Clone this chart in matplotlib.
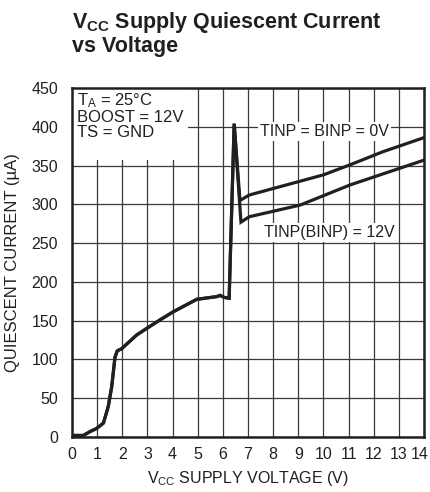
import matplotlib
matplotlib.use("Agg")
import matplotlib.pyplot as plt
import matplotlib.transforms as mtransforms
from matplotlib import font_manager

names = {f.name for f in font_manager.fontManager.ttflist}
FONT = "Liberation Sans Narrow" if "Liberation Sans Narrow" in names else "Liberation Sans"
plt.rcParams['font.family'] = [FONT, 'DejaVu Sans']
plt.rcParams['mathtext.fontset'] = 'custom'
plt.rcParams['mathtext.rm'] = FONT
plt.rcParams['mathtext.it'] = FONT + ':italic'
plt.rcParams['mathtext.bf'] = FONT + ':bold'

# Common rising part (both conditions)
v_common = [0.0, 0.45, 0.72, 0.98, 1.25, 1.44, 1.58, 1.71, 1.80, 1.98, 2.57, 2.97, 3.5, 4.03, 4.96, 5.75, 5.89, 6.05, 6.25, 6.45]
i_common = [2, 2, 7, 11, 18, 39, 65, 103, 111, 114, 131.5, 140, 151, 161.5, 177.5, 181, 182.6, 180, 179, 404]

# TINP = BINP = 0V
v_0v = [6.68, 7.05, 10.0, 11.06, 12.38, 14.0]
i_0v = [305, 312, 338, 351, 368, 386]

# TINP(BINP) = 12V
v_12v = [6.72, 7.05, 9.07, 11.06, 14.0]
i_12v = [277, 284, 299, 325, 357]

x_ticks = list(range(0, 15))
y_ticks = list(range(0, 451, 50))

fig = plt.figure(figsize=(4.31, 4.92), dpi=100)
ax = fig.add_axes([72/431, 55/492, 352/431, 349/492])

ink = '#231f20'
ax.plot(v_common + v_0v, i_common + i_0v, color=ink, lw=2.3, solid_joinstyle='miter', zorder=3)
ax.plot(v_common + v_12v, i_common + i_12v, color=ink, lw=2.3, solid_joinstyle='miter', zorder=3)

ax.set_xlim(0, 14)
ax.set_ylim(0, 450)
ax.set_xticks(x_ticks)
ax.set_yticks(y_ticks)
ax.tick_params(axis='x', length=0, labelsize=11.5, colors=ink, pad=7)
ax.tick_params(axis='y', length=0, labelsize=11.5, colors=ink, pad=10)
ax.grid(True, color='#3a3a3a', lw=0.9)
ax.set_axisbelow(True)
for s in ax.spines.values():
    s.set_linewidth(1.8)
    s.set_color(ink)

# nudge the last x tick label so it stays inside the figure
last = ax.get_xticklabels()[-1]
last.set_transform(last.get_transform() + mtransforms.ScaledTranslation(-4/100, 0, fig.dpi_scale_trans))

# white box behind conditions text
ax.fill_between([0, 4.62], 357, 450, color='white', zorder=2, lw=0)
ax.text(0.2, 446, "T$_\\mathrm{A}$ = 25°C\nBOOST = 12V\nTS = GND", fontsize=12,
        color=ink, va='top', ha='left', linespacing=1.0, zorder=4)

ax.text(10.05, 394, "TINP = BINP = 0V", fontsize=11.5, color=ink, ha='center', va='center',
        zorder=4, bbox=dict(facecolor='white', edgecolor='none', pad=1.5))
ax.text(10.25, 264, "TINP(BINP) = 12V", fontsize=11.5, color=ink, ha='center', va='center',
        zorder=4, bbox=dict(facecolor='white', edgecolor='none', pad=1.5))

ax.set_xlabel("V$_\\mathrm{CC}$ SUPPLY VOLTAGE (V)", fontsize=11.5, color=ink, labelpad=5)
ax.set_ylabel("QUIESCENT CURRENT (µA)", fontsize=12, color=ink)
ax.yaxis.set_label_coords(-0.148, 0.5)

fig.text(72/431, 1 - 10/492, "$\\mathbf{V_{CC}}$ Supply Quiescent Current\nvs Voltage",
         fontsize=15.5, fontweight='bold', color=ink, ha='left', va='top', linespacing=1.08)

fig.savefig("out.png", dpi=100)
